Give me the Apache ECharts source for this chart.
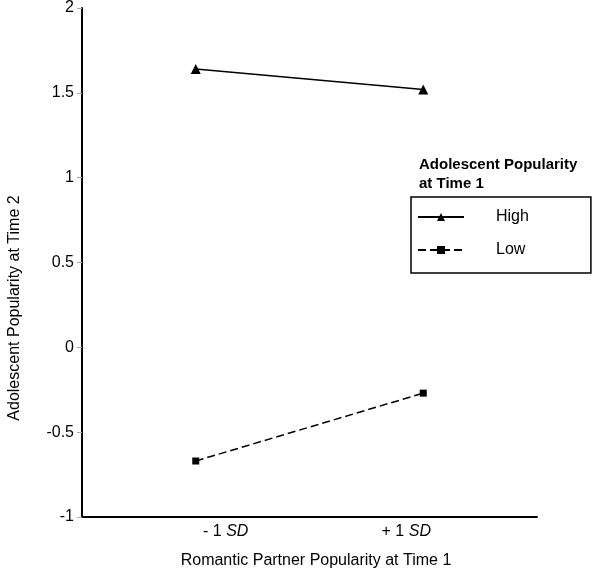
<!DOCTYPE html>
<html>
<head>
<meta charset="utf-8">
<script src="https://cdn.jsdelivr.net/npm/echarts@6/dist/echarts.min.js"></script>
<style>html,body{margin:0;padding:0;background:#fff}#c{width:600px;height:576px}</style>
</head>
<body>
<div id="c"></div>
<script>
var categories = ['- 1 SD', '+ 1 SD'];
var highValues = [1.64, 1.52];
var lowValues = [-0.67, -0.27];
var seriesNames = ['High', 'Low'];
var yMin = -1, yMax = 2, yStep = 0.5;
var xTitle = 'Romantic Partner Popularity at Time 1';
var yTitle = 'Adolescent Popularity at Time 2';
var legendTitle = 'Adolescent Popularity\nat Time 1';

var FONT = 'Liberation Sans, Arial, sans-serif';
var chart = echarts.init(document.getElementById('c'), null, {renderer: 'canvas'});
chart.setOption({
  animation: false,
  backgroundColor: '#fff',
  grid: {left: 82, right: 63, top: 7, bottom: 59, containLabel: false},
  xAxis: {
    type: 'category',
    data: categories,
    boundaryGap: true,
    axisLine: {onZero: false, lineStyle: {color: '#000', width: 2}},
    axisTick: {show: false},
    axisLabel: {
      margin: 7,
      fontFamily: FONT, fontSize: 16, color: '#000',
      formatter: function (v, i) {
        var parts = v.split(' SD');
        if (i === 0) return '{sp1| }{n|' + parts[0] + ' }{i|SD}';
        return '{n|' + parts[0] + ' }{i|SD}{sp2| }';
      },
      rich: {
        n: {fontFamily: FONT, fontSize: 16, color: '#000'},
        i: {fontFamily: FONT, fontSize: 16, color: '#000', fontStyle: 'italic'},
        sp1: {width: 60, fontSize: 16},
        sp2: {width: 34, fontSize: 16}
      }
    },
    splitLine: {show: false}
  },
  yAxis: {
    type: 'value',
    min: yMin, max: yMax, interval: yStep,
    axisLine: {show: true, onZero: false, lineStyle: {color: '#000', width: 2}},
    axisTick: {show: true, length: 5, lineStyle: {color: '#aaa', width: 1}},
    axisLabel: {margin: 8, fontFamily: FONT, fontSize: 16, color: '#000'},
    splitLine: {show: false}
  },
  legend: {
    orient: 'vertical',
    left: 411, top: 197,
    data: seriesNames,
    backgroundColor: '#fff',
    borderColor: '#000', borderWidth: 1.5, borderRadius: 0,
    padding: [12, 62, 15, 6],
    itemGap: 17,
    itemWidth: 46, itemHeight: 10,
    selectedMode: false,
    textStyle: {fontFamily: FONT, fontSize: 16, color: '#000', padding: [0, 0, 0, 27], lineHeight: 14}
  },
  graphic: [
    {type: 'text', left: 419, top: 155, style: {text: legendTitle, font: 'bold 15px ' + FONT, fill: '#000', lineHeight: 19}},
    {type: 'text', x: 316, y: 561, style: {text: xTitle, font: '16px ' + FONT, fill: '#000', align: 'center', verticalAlign: 'middle'}},
    {type: 'text', x: 15, y: 308, rotation: Math.PI / 2, style: {text: yTitle, font: '16px ' + FONT, fill: '#000', align: 'center', verticalAlign: 'middle'}}
  ],
  series: [
    {
      name: seriesNames[0], type: 'line', data: highValues,
      symbol: 'triangle', symbolSize: 10,
      itemStyle: {color: '#000'},
      lineStyle: {color: '#000', width: 1.5, type: 'solid'}
    },
    {
      name: seriesNames[1], type: 'line', data: lowValues,
      symbol: 'rect', symbolSize: 7,
      itemStyle: {color: '#000'},
      lineStyle: {color: '#000', width: 1.5, type: [8, 4]}
    }
  ]
});
</script>
</body>
</html>
